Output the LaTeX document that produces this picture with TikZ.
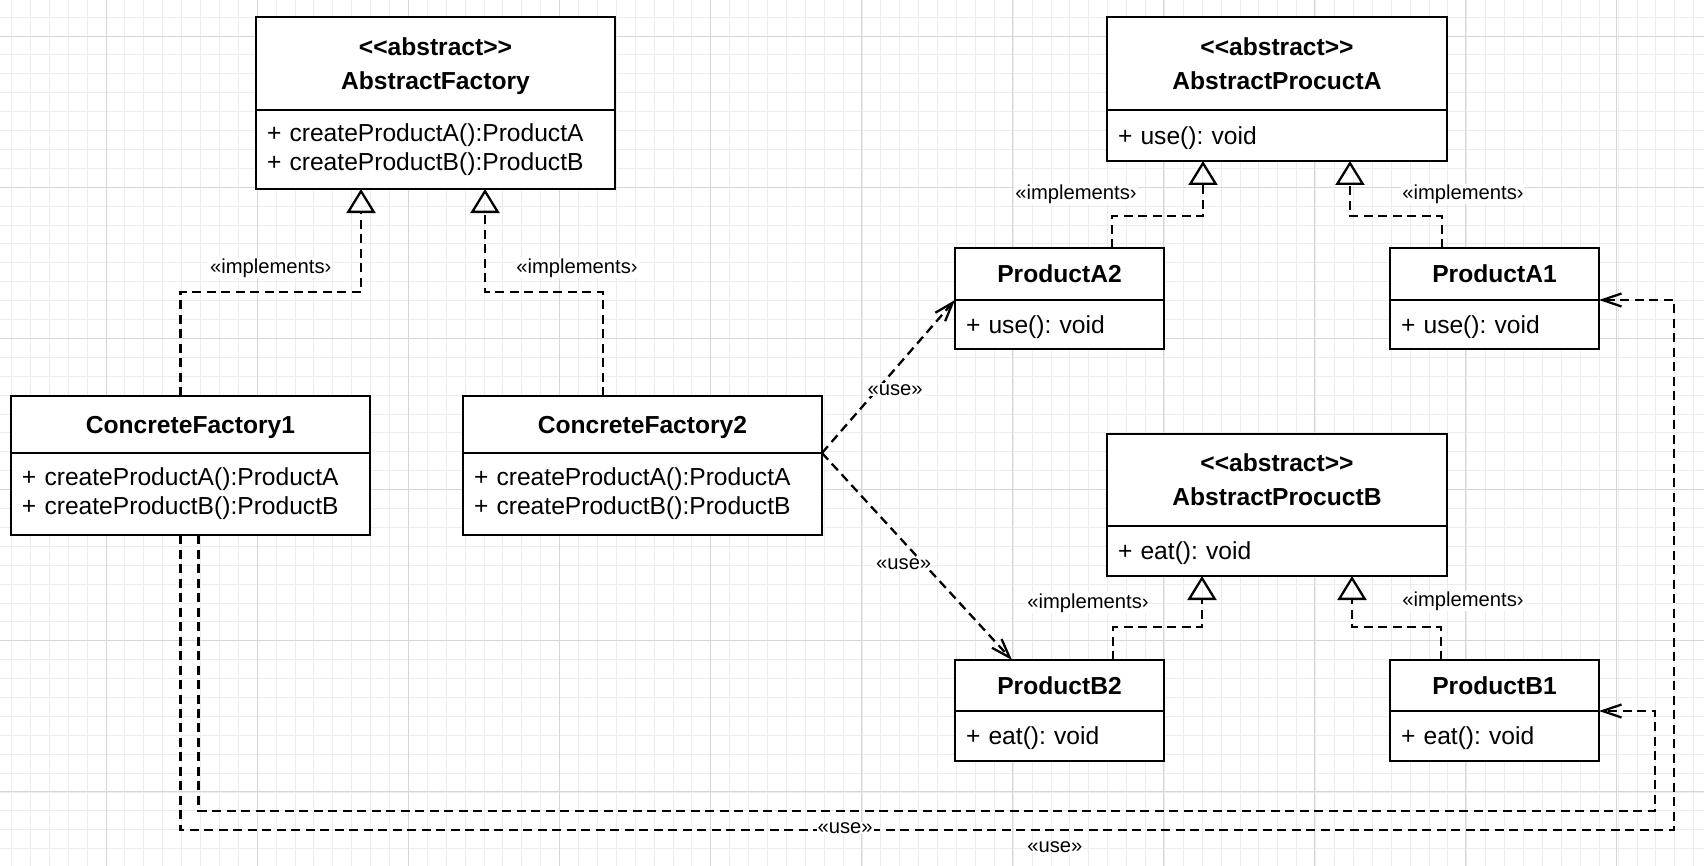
\documentclass[tikz,border=0pt]{standalone}
\usepackage{fontspec}
\setmainfont{Liberation Sans}
\usetikzlibrary{arrows.meta,positioning,calc}
\definecolor{gridMinor}{RGB}{236,236,236}
\definecolor{gridMajor}{RGB}{214,214,214}
\frenchspacing
\tikzset{
    every node/.append style={align=center},
    hdr/.style={rectangle,draw=black,line width=1.3pt,fill=white,outer sep=0pt,inner sep=0pt,text depth=0pt,
        font=\fontsize{14}{19.3}\selectfont\bfseries},
    ops/.style={rectangle,draw=black,line width=1.3pt,fill=white,outer sep=0pt,inner xsep=0.22cm,
        inner ysep=0pt,align=left,font=\fontsize{14}{16.4}\selectfont},
    op1/.style={ops,text depth=0pt},
    impl/.style={-{Triangle[open,length=0.48cm,width=0.58cm]},line width=1.3pt,dash pattern=on 0.18cm off 0.11cm},
    dep/.style={-{Straight Barb[length=0.38cm,width=0.26cm]},line width=1.3pt,dash pattern=on 0.18cm off 0.11cm},
    lbl/.style={font=\fontsize{11.5}{13}\selectfont,fill=white,inner sep=0.5pt},
    minorgrid/.style={draw=gridMinor,line width=0.5pt},
    majorgrid/.style={draw=gridMajor,line width=0.5pt}
}
\begin{document}
\begin{tikzpicture}[node distance=0pt and 1.86cm]
    \useasboundingbox (0,0) rectangle (34.08,-17.32);
    \begin{scope}[shift={(0.23,-0.342)}]
        \draw[minorgrid,step=0.378] (-0.23,0.342) grid (33.85,-16.978);
    \end{scope}
    \begin{scope}[shift={(2.12,-0.72)}]
        \draw[majorgrid,step=3.02] (-2.12,0.72) grid (31.96,-16.6);
    \end{scope}

    \node[hdr,anchor=north west,minimum width=7.18cm,minimum height=1.86cm] (af) at (5.12,-0.34) {<\kern0pt<abstract>\kern0pt>\\AbstractFactory};
    \node[ops,below=of af,text width=6.74cm,minimum height=1.58cm] (afm) {+ createProductA():ProductA\\+ createProductB():ProductB};

    \node[hdr,below=4.14cm of afm.south west,anchor=north west,xshift=-4.9cm,minimum width=7.18cm,minimum height=1.14cm] (cf1) {ConcreteFactory1};
    \node[ops,below=of cf1,text width=6.74cm,minimum height=1.64cm] (cf1m) {+ createProductA():ProductA\\+ createProductB():ProductB};
    \node[hdr,right=of cf1,minimum width=7.18cm,minimum height=1.14cm] (cf2) {ConcreteFactory2};
    \node[ops,below=of cf2,text width=6.74cm,minimum height=1.64cm] (cf2m) {+ createProductA():ProductA\\+ createProductB():ProductB};

    \node[hdr,right=9.84cm of af,minimum width=6.8cm,minimum height=1.86cm] (apa) {<\kern0pt<abstract>\kern0pt>\\AbstractProcuctA};
    \node[op1,below=of apa,text width=6.36cm,minimum height=1.02cm] (apam) {+ use(): void};
    \node[hdr,below=1.74cm of apam.south west,anchor=north west,xshift=-3.04cm,minimum width=4.18cm,minimum height=1.04cm] (pa2) {ProductA2};
    \node[op1,below=of pa2,text width=3.74cm,minimum height=0.98cm] (pa2m) {+ use(): void};
    \node[hdr,right=4.52cm of pa2,minimum width=4.18cm,minimum height=1.04cm] (pa1) {ProductA1};
    \node[op1,below=of pa1,text width=3.74cm,minimum height=0.98cm] (pa1m) {+ use(): void};

    \node[hdr,below=5.46cm of apam,minimum width=6.8cm,minimum height=1.84cm] (apb) {<\kern0pt<abstract>\kern0pt>\\AbstractProcuctB};
    \node[op1,below=of apb,text width=6.36cm,minimum height=1.0cm] (apbm) {+ eat(): void};
    \node[hdr,below=1.68cm of apbm.south west,anchor=north west,xshift=-3.04cm,minimum width=4.18cm,minimum height=1.02cm] (pb2) {ProductB2};
    \node[op1,below=of pb2,text width=3.74cm,minimum height=1.0cm] (pb2m) {+ eat(): void};
    \node[hdr,right=4.52cm of pb2,minimum width=4.18cm,minimum height=1.02cm] (pb1) {ProductB1};
    \node[op1,below=of pb1,text width=3.74cm,minimum height=1.0cm] (pb1m) {+ eat(): void};

    \draw[impl] ($(cf1.north)+(-0.2,0)$) -- ++(0,2.08) -| node[lbl,pos=0.25,yshift=0.48cm] {«implements›} ($(afm.south)+(-1.49,0)$);
    \draw[impl] ($(cf2.north)+(-0.79,0)$) -- ++(0,2.08) -| node[lbl,pos=0.11,yshift=0.48cm] {«implements›} ($(afm.south)+(0.99,0)$);
    \draw[impl] ($(pa2.north)+(1.05,0)$) -- ++(0,0.64) -| node[lbl,pos=0,xshift=-0.72cm,yshift=0.44cm] {«implements›} ($(apam.south)+(-1.48,0)$);
    \draw[impl] ($(pa1.north)+(-1.05,0)$) -- ++(0,0.64) -| node[lbl,pos=0,xshift=0.42cm,yshift=0.44cm] {«implements›} ($(apam.south)+(1.46,0)$);
    \draw[impl] ($(pb2.north)+(1.07,0)$) -- ++(0,0.66) -| node[lbl,pos=0,xshift=-0.5cm,yshift=0.48cm] {«implements›} ($(apbm.south)+(-1.5,0)$);
    \draw[impl] ($(pb1.north)+(-1.07,0)$) -- ++(0,0.66) -| node[lbl,pos=0,xshift=0.44cm,yshift=0.52cm] {«implements›} ($(apbm.south)+(1.5,0)$);

    \draw[dep] (cf2m.north east) -- node[lbl,pos=0.55,yshift=-0.42cm] {«use»} (pa2m.north west);
    \draw[dep] (cf2m.north east) -- node[lbl,pos=0.43,yshift=-0.44cm] {«use»} ($(pb2.north)+(-0.95,0)$);
    \draw[dep] ($(cf1m.south)+(-0.2,0)$) -- ++(0,-5.9) -| node[lbl,pos=0.2225,yshift=0.04cm] {«use»} ($(pa1m.north east)+(1.5,0)$) -- (pa1m.north east);
    \draw[dep] ($(cf1m.south)+(0.16,0)$) -- ++(0,-5.52) -| node[lbl,pos=0.294,yshift=-0.72cm] {«use»} ($(pb1m.north east)+(1.12,0)$) -- (pb1m.north east);
\end{tikzpicture}
\end{document}
